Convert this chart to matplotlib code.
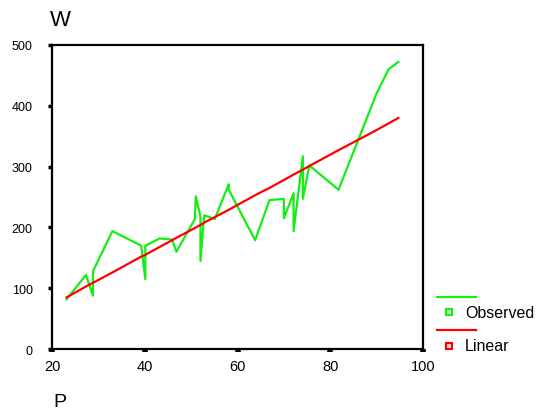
import matplotlib.pyplot as plt
from matplotlib.lines import Line2D

plt.rcParams['font.family'] = ['Liberation Sans', 'DejaVu Sans']

# observed W against P (sorted by P, repeated P values give the vertical spikes)
p_obs = [23.1, 27.3, 28.8, 28.8, 33.0, 39.2, 40.1, 40.1, 43.2, 45.9, 46.8,
         50.8, 51.0, 52.0, 52.0, 52.8, 55.1, 58.1, 58.1, 63.8, 66.9, 70.0,
         70.0, 72.1, 72.1, 74.1, 74.1, 75.5, 81.8, 90.0, 92.6, 94.7]
w_obs = [82, 122, 88, 128, 194, 170, 115, 170, 182, 180, 160,
         214, 251, 218, 145, 220, 214, 271, 262, 179, 245, 247,
         215, 256, 194, 317, 247, 302, 262, 420, 460, 472]
# linear fit values read at the same P
w_lin = [85, 103, 109, 109, 126, 152, 155, 155, 168, 179, 183,
         199, 200, 204, 204, 208, 217, 229, 229, 253, 265, 278,
         278, 287, 287, 295, 295, 301, 327, 360, 371, 380]

green = '#14EE14'
red = '#FF0000'

fig = plt.figure(figsize=(5.38, 4.10), dpi=100)
ax = fig.add_axes([0.097, 0.146, 0.689, 0.742])

ax.plot(p_obs, w_obs, color=green, lw=1.6)
ax.plot(p_obs, w_lin, color=red, lw=1.6)

ax.set_xlim(20, 100)
ax.set_ylim(0, 500)
ax.set_xticks([20, 40, 60, 80, 100])
ax.set_yticks([0, 100, 200, 300, 400, 500])
ax.tick_params(axis='x', direction='out', length=2, width=4, pad=5, labelsize=10.5)
ax.tick_params(axis='y', direction='out', length=3, width=2.5, pad=11, labelsize=9)
for s in ax.spines.values():
    s.set_linewidth(1.6)

fig.text(0.093, 0.95, 'W', fontsize=16, va='center', ha='left')
fig.text(0.100, 0.018, 'P', fontsize=14, va='center', ha='left')

# SPSS style legend at the right
def fx(px):
    return px / 538

def fy(py):
    return 1 - py / 410

fig.add_artist(Line2D([fx(437), fx(476)], [fy(297.5), fy(297.5)], color=green, lw=1.6))
fig.add_artist(Line2D([fx(449)], [fy(313)], color=green, marker='s', ms=4,
                      mfc='#CCFFCC', mec=green, mew=1.5, ls='none'))
fig.text(fx(465), fy(314), 'Observed', fontsize=11.5, va='center', ha='left')
fig.add_artist(Line2D([fx(437), fx(476)], [fy(330.5), fy(330.5)], color=red, lw=1.6))
fig.add_artist(Line2D([fx(449)], [fy(347)], color=red, marker='s', ms=4,
                      mfc='#FFCCCC', mec=red, mew=1.5, ls='none'))
fig.text(fx(465), fy(347), 'Linear', fontsize=11.5, va='center', ha='left')

fig.savefig('out.png', dpi=100)
